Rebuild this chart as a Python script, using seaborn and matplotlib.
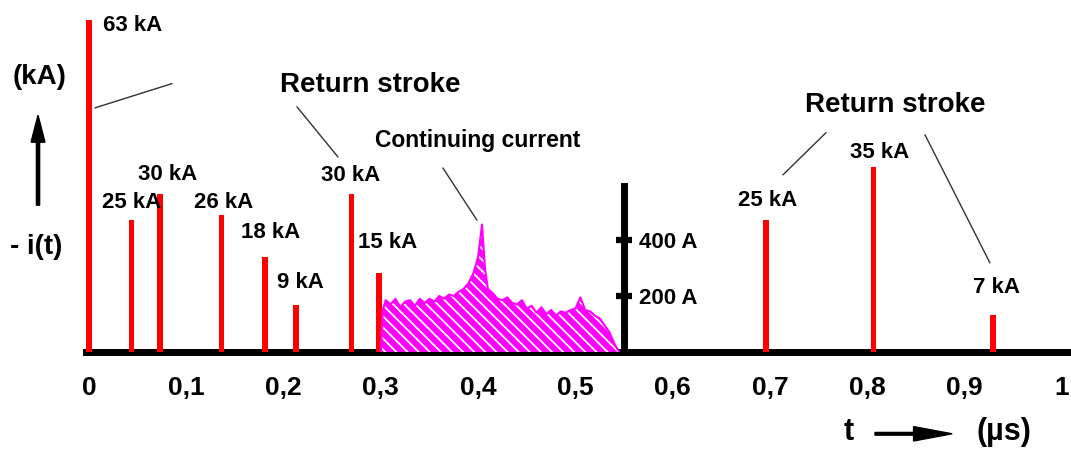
import numpy as np
import pandas as pd
import matplotlib as mpl
mpl.use('Agg')
import matplotlib.pyplot as plt
import seaborn as sns

# Return strokes: time (us) and peak current (kA)
stroke_t = [0.0, 0.044, 0.073, 0.136, 0.181, 0.213, 0.270, 0.298, 0.696, 0.806, 0.929]
stroke_ka = [63, 25, 30, 26, 18, 9, 30, 15, 25, 35, 7]
stroke_labels = ['63 kA', '25 kA', '30 kA', '26 kA', '18 kA', '9 kA',
                 '30 kA', '15 kA', '25 kA', '35 kA', '7 kA']

# Continuing current (A)
cc_t = [0.300, 0.302, 0.305, 0.310, 0.315, 0.320, 0.325, 0.330, 0.335, 0.340,
        0.345, 0.350, 0.355, 0.360, 0.365, 0.370, 0.375, 0.380, 0.385, 0.390,
        0.395, 0.400, 0.404, 0.407, 0.410, 0.415, 0.420, 0.425, 0.430, 0.435,
        0.440, 0.445, 0.450, 0.455, 0.460, 0.465, 0.470, 0.475, 0.480, 0.485,
        0.490, 0.495, 0.500, 0.505, 0.510, 0.515, 0.520, 0.525, 0.530, 0.535,
        0.540, 0.545]
cc_a = [0, 150, 185, 170, 190, 160, 180, 185, 165, 190,
        175, 190, 180, 200, 190, 205, 200, 215, 225, 245,
        280, 340, 455, 300, 225, 210, 190, 185, 195, 175,
        170, 185, 155, 165, 140, 160, 135, 150, 130, 145,
        140, 150, 155, 195, 150, 145, 130, 120, 95, 70,
        30, 0]

xticks = [0, 0.1, 0.2, 0.3, 0.4, 0.5, 0.6, 0.7, 0.8, 0.9, 1.0]
xticklabels = ['0', '0,1', '0,2', '0,3', '0,4', '0,5', '0,6', '0,7', '0,8', '0,9', '1']
scale_ticks = [200, 400]
scale_labels = ['200 A', '400 A']

sns.set_theme(style='white')
plt.rcParams['font.family'] = ['Liberation Sans', 'DejaVu Sans']
plt.rcParams['font.weight'] = 'bold'
plt.rcParams['text.color'] = 'black'
plt.rcParams['xtick.color'] = 'black'
plt.rcParams['ytick.color'] = 'black'
plt.rcParams['hatch.linewidth'] = 1.3

fig = plt.figure(figsize=(10.71, 4.5), dpi=100)
ax = fig.add_axes([86 / 1071, 98 / 450, 985 / 1071, 348 / 450])
ax.set_xlim(-0.003, 1.0093)
ax.set_ylim(0, 66)

ax.bar(stroke_t, stroke_ka, width=0.0055, color='#ff0000', linewidth=0, zorder=3)

for s in ['top', 'left', 'right']:
    ax.spines[s].set_visible(False)
ax.spines['bottom'].set_linewidth(5)
ax.spines['bottom'].set_color('black')
ax.set_yticks([])
ax.set_xticks(xticks)
ax.set_xticklabels(xticklabels, fontsize=19, fontweight='bold')
ax.tick_params(axis='x', direction='out', length=8, width=5, color='black', pad=9)

# continuing current on its own scale
ax2 = ax.twinx()
ax2.set_ylim(0, 66 * 18.82)
cc = pd.DataFrame({'t': cc_t, 'i': cc_a})
ax2.fill_between(cc['t'], 0, cc['i'], facecolor='#ff00ff', edgecolor='white',
                 hatch='\\\\\\', linewidth=0, zorder=2)
sns.lineplot(data=cc, x='t', y='i', ax=ax2, color='#ff00ff', linewidth=1.5, zorder=3)
for s in ['top', 'left', 'bottom']:
    ax2.spines[s].set_visible(False)
ax2.spines['right'].set_position(('data', 0.55))
ax2.spines['right'].set_bounds(0, 593)
ax2.spines['right'].set_linewidth(5)
ax2.spines['right'].set_color('black')
ax2.set_yticks(scale_ticks)
ax2.set_yticklabels(scale_labels, fontsize=16, fontweight='bold')
ax2.tick_params(axis='y', direction='inout', length=12, width=4.5, color='black', pad=5)
ax2.set_ylabel('')
ax2.set_xlabel('')
ax.set_xlabel('')

# stroke labels
label_pos = [(0.0144, 62.0), (0.013, 28.3), (0.050, 33.6), (0.108, 28.3), (0.156, 22.6),
             (0.193, 13.1), (0.238, 33.4), (0.277, 20.7), (0.667, 28.7), (0.782, 37.8),
             (0.909, 12.3)]
for (x, y), lab in zip(label_pos, stroke_labels):
    ax.text(x, y, lab, fontsize=16, fontweight='bold', ha='left', va='center', zorder=5)

ax.text(0.289, 50.7, 'Return stroke', fontsize=20, fontweight='bold', ha='center', va='center')
ax.text(0.829, 46.9, 'Return stroke', fontsize=20, fontweight='bold', ha='center', va='center')
ax.text(0.4, 40.2, 'Continuing current', fontsize=16.5, fontweight='bold', ha='center', va='center')

for (x0, y0), (x1, y1) in [((0.0853, 50.9), (0.0062, 46.3)),
                           ((0.2138, 46.5), (0.2559, 37.0)),
                           ((0.3638, 34.9), (0.3988, 25.0)),
                           ((0.7575, 41.6), (0.7133, 33.6)),
                           ((0.8592, 41.2), (0.926, 16.9))]:
    ax.plot([x0, x1], [y0, y1], color='#333333', linewidth=1, zorder=4)

# axis captions
fig.text(0.037, 0.829, '(kA)', fontsize=20, fontweight='bold', ha='center', va='center')
fig.text(0.034, 0.451, '- i(t)', fontsize=20, fontweight='bold', ha='center', va='center')
fig.patches.append(mpl.patches.FancyArrow(0.0355, 0.544, 0, 0.14, width=0.003,
                                          head_width=0.013, head_length=0.06,
                                          color='black', transform=fig.transFigure))
fig.text(0.792, 0.04, 't', fontsize=22, fontweight='bold', ha='center', va='center')
fig.text(0.937, 0.04, '(\u00b5s)', fontsize=22, fontweight='bold', ha='center', va='center')
fig.patches.append(mpl.patches.FancyArrow(0.817, 0.036, 0.036, 0, width=0.006,
                                          head_width=0.032, head_length=0.036,
                                          color='black', transform=fig.transFigure))

plt.savefig('out.png', dpi=100)
